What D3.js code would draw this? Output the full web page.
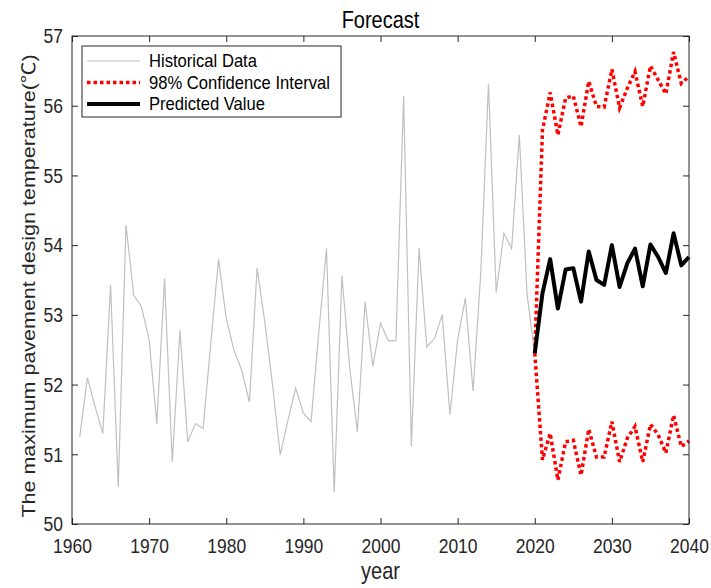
<!DOCTYPE html>
<html>
<head>
<meta charset="utf-8">
<script src="https://cdn.jsdelivr.net/npm/d3@7"></script>
<style>
  html, body { margin: 0; padding: 0; background: #fff; }
  svg { display: block; font-family: "Liberation Sans", Arial, Helvetica, sans-serif; }
</style>
</head>
<body>
<svg id="chart" width="711" height="588"></svg>
<script>
// Historical series, one value per year starting 1961
const histStartYear = 1961;
const histValues = [
  51.25, 52.10, 51.68, 51.30, 53.43, 50.53, 54.29, 53.28, 53.12, 52.64,
  51.44, 53.52, 50.89, 52.78, 51.18, 51.44, 51.37, 52.60, 53.80, 52.95,
  52.49, 52.21, 51.75, 53.67, 52.90, 52.00, 50.99, 51.49, 51.95, 51.59,
  51.47, 52.75, 53.95, 50.46, 53.56, 52.25, 51.32, 53.19, 52.26, 52.88,
  52.63, 52.63, 56.14, 51.11, 53.96, 52.54, 52.66, 53.00, 51.57, 52.64,
  53.24, 51.91, 53.60, 56.32, 53.32, 54.17, 53.95, 55.58, 53.30, 52.45
];

// Forecast series, one value per year starting 2020
const fcStartYear = 2020;
const predicted = [
  52.45, 53.31, 53.80, 53.09, 53.65, 53.67, 53.19, 53.91, 53.50, 53.43,
  54.00, 53.40, 53.74, 53.95, 53.41, 54.01, 53.83, 53.60, 54.17, 53.71, 53.83
];
const upperCI = [
  52.45, 55.65, 56.19, 55.58, 56.11, 56.14, 55.70, 56.35, 55.99, 55.98,
  56.52, 55.97, 56.25, 56.49, 55.99, 56.57, 56.37, 56.17, 56.77, 56.32, 56.42
];
const lowerCI = [
  52.45, 50.92, 51.30, 50.63, 51.18, 51.20, 50.70, 51.36, 50.96, 50.96,
  51.47, 50.89, 51.23, 51.40, 50.89, 51.43, 51.28, 51.02, 51.56, 51.11, 51.19
];

const xTicks = [1960, 1970, 1980, 1990, 2000, 2010, 2020, 2030, 2040];
const yTicks = [50, 51, 52, 53, 54, 55, 56, 57];
const legendLabels = ["Historical Data", "98% Confidence Interval", "Predicted Value"];

// Layout
const plot = { left: 72, right: 689, top: 36, bottom: 524 };
const axisColor = "#262626";
const histColor = "#c0c0c0";
const ciColor = "#ff0000";
const predColor = "#000000";
// the source figure is stretched vertically, so glyphs are narrower than tall
const squeeze = 0.833;

const svg = d3.select("#chart");

const x = d3.scaleLinear().domain([1960, 2040]).range([plot.left, plot.right]);
const y = d3.scaleLinear().domain([50, 57]).range([plot.bottom, plot.top]);

const histPts = histValues.map((v, i) => ({ year: histStartYear + i, value: v }));
const toPts = arr => arr.map((v, i) => ({ year: fcStartYear + i, value: v }));

const line = d3.line().x(d => x(d.year)).y(d => y(d.value));

// Data lines
svg.append("path")
  .datum(histPts)
  .attr("d", line)
  .attr("fill", "none")
  .attr("stroke", histColor)
  .attr("stroke-width", 1.2);

[upperCI, lowerCI].forEach(arr => {
  svg.append("path")
    .datum(toPts(arr))
    .attr("d", line)
    .attr("fill", "none")
    .attr("stroke", ciColor)
    .attr("stroke-width", 3.5)
    .attr("stroke-dasharray", "3.5,3");
});

svg.append("path")
  .datum(toPts(predicted))
  .attr("d", line)
  .attr("fill", "none")
  .attr("stroke", predColor)
  .attr("stroke-width", 4)
  .attr("stroke-linejoin", "round");

// Axes (ticks point inward, mirrored on top/right like a boxed plot)
function styleAxis(g) {
  g.select(".domain").remove();
  g.selectAll(".tick line").attr("stroke", axisColor);
  g.selectAll(".tick text")
    .attr("fill", axisColor)
    .style("font-size", "21px")
    .attr("transform", `scale(${squeeze},1)`);
}

svg.append("g")
  .attr("transform", `translate(0,${plot.bottom})`)
  .call(d3.axisBottom(x).tickValues(xTicks).tickFormat(d3.format("d"))
    .tickSizeInner(-6).tickSizeOuter(0).tickPadding(14))
  .call(styleAxis);

svg.append("g")
  .attr("transform", `translate(0,${plot.top})`)
  .call(d3.axisTop(x).tickValues(xTicks).tickFormat("")
    .tickSizeInner(-6).tickSizeOuter(0))
  .call(styleAxis);

svg.append("g")
  .attr("transform", `translate(${plot.left},0)`)
  .call(d3.axisLeft(y).tickValues(yTicks).tickFormat(d3.format("d"))
    .tickSizeInner(-6).tickSizeOuter(0))
  .call(styleAxis)
  .call(g => g.selectAll(".tick text").attr("x", -9 / squeeze));

svg.append("g")
  .attr("transform", `translate(${plot.right},0)`)
  .call(d3.axisRight(y).tickValues(yTicks).tickFormat("")
    .tickSizeInner(-6).tickSizeOuter(0))
  .call(styleAxis);

// Box
svg.append("rect")
  .attr("x", plot.left)
  .attr("y", plot.top)
  .attr("width", plot.right - plot.left)
  .attr("height", plot.bottom - plot.top)
  .attr("fill", "none")
  .attr("stroke", axisColor)
  .attr("stroke-width", 1);

// Title and axis labels
svg.append("text")
  .attr("transform", `translate(${(plot.left + plot.right) / 2},28) scale(${squeeze},1)`)
  .attr("text-anchor", "middle")
  .attr("fill", "#000")
  .style("font-size", "24px")
  .text("Forecast");

svg.append("text")
  .attr("transform", `translate(${(plot.left + plot.right) / 2},579) scale(${squeeze},1)`)
  .attr("text-anchor", "middle")
  .attr("fill", axisColor)
  .style("font-size", "24px")
  .text("year");

const yLabel = svg.append("text")
  .attr("transform", `translate(35,286) rotate(-90) scale(1,${squeeze})`)
  .attr("text-anchor", "middle")
  .attr("fill", axisColor)
  .style("font-size", "21.5px");
yLabel.append("tspan").text("The maximum pavement design temperature(");
yLabel.append("tspan").style("font-family", "'Noto Sans CJK SC', sans-serif").text("℃");
yLabel.append("tspan").text(")");

// Legend
const legend = svg.append("g");
legend.append("rect")
  .attr("x", 82).attr("y", 46)
  .attr("width", 259).attr("height", 71)
  .attr("fill", "#fff")
  .attr("stroke", axisColor)
  .attr("stroke-width", 1);

const legendRows = [61, 82.5, 104];
const sample = { x0: 87, x1: 140 };

legend.append("line")
  .attr("x1", sample.x0).attr("x2", sample.x1)
  .attr("y1", legendRows[0]).attr("y2", legendRows[0])
  .attr("stroke", histColor).attr("stroke-width", 1.2);

legend.append("line")
  .attr("x1", sample.x0).attr("x2", sample.x1)
  .attr("y1", legendRows[1]).attr("y2", legendRows[1])
  .attr("stroke", ciColor).attr("stroke-width", 3.5)
  .attr("stroke-dasharray", "3.5,3");

legend.append("line")
  .attr("x1", sample.x0).attr("x2", sample.x1)
  .attr("y1", legendRows[2]).attr("y2", legendRows[2])
  .attr("stroke", predColor).attr("stroke-width", 4);

legend.selectAll("text.lbl")
  .data(legendLabels)
  .join("text")
  .attr("class", "lbl")
  .attr("transform", (d, i) => `translate(149,${legendRows[i] + 6}) scale(0.95,1)`)
  .attr("fill", "#000")
  .style("font-size", "17.5px")
  .text(d => d);
</script>
</body>
</html>
